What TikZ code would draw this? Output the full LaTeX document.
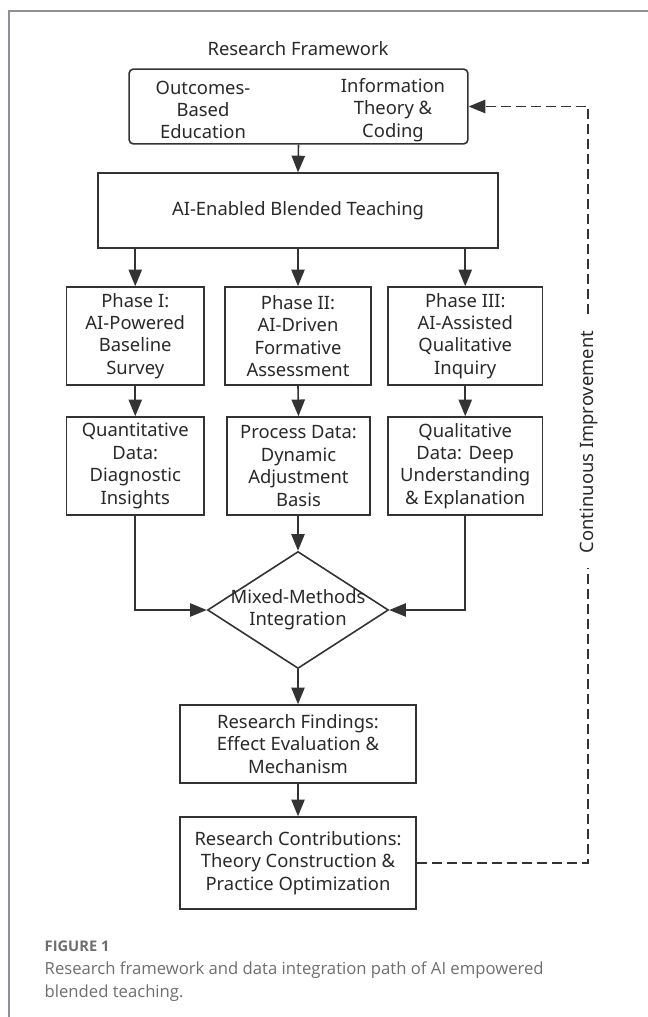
\documentclass[tikz,border=0pt]{standalone}
\usepackage{fontspec}
\setmainfont{Noto Sans}
\newfontfamily\capfont{Open Sans}
\usetikzlibrary{positioning,arrows.meta,shapes.geometric,calc}
\definecolor{ink}{HTML}{333333}
\definecolor{framegray}{HTML}{8C9099}
\definecolor{capgray}{HTML}{6E6E6E}
\tikzset{
  box/.style={draw=ink, line width=1.2pt, align=center, inner sep=2pt},
  link/.style={ink, line width=1.2pt, -{Triangle[length=12.5pt,width=10pt]}},
  loopline/.style={draw=ink, line width=1.2pt, dash pattern=on 7.5pt off 3.75pt, -{Triangle[length=12.5pt,width=10pt]}},
}

\begin{document}
\begin{tikzpicture}[x=0.75pt, y=-0.75pt, font=\fontsize{13.8}{16.8}\selectfont, text=ink!80!black]
	  \useasboundingbox (0,0) rectangle (648,1017);
	  \draw[framegray, line width=0.9pt] (9,1017) |- (648,11);
	  \node (title) at (298,49) {Research Framework};
	  \node[box, rounded corners=3pt, minimum width=254pt, minimum height=56pt] (base) at (298.5,106.5) {};
	  \node[align=center] (obe) at (203,110) {Outcomes-\\Based\\Education};
	  \node[align=center] (itc) at (393,110) {Information\\Theory \&\\Coding};
	  \node[box, minimum width=300pt, minimum height=56pt] (ai) at (298,210.5) {AI-Enabled Blended Teaching};
	  \node[box, minimum width=103pt, minimum height=73.5pt] (p1) at (135.25,336) {Phase I:\\AI-Powered\\Baseline\\Survey};
	  \node[box, minimum width=109.5pt, minimum height=73.5pt] (p2) at (298,336) {Phase II:\\AI-Driven\\Formative\\Assessment};
	  \node[box, minimum width=116pt, minimum height=73.5pt] (p3) at (465.25,336) {Phase III:\\AI-Assisted\\Qualitative\\Inquiry};
	  \node[box, minimum width=103pt, minimum height=73.5pt] (d1) at (135.25,466) {Quantitative\\Data:\\Diagnostic\\Insights};
	  \node[box, minimum width=107pt, minimum height=73.5pt] (d2) at (298.5,466) {Process Data:\\Dynamic\\Adjustment\\Basis};
	  \node[box, minimum width=116pt, minimum height=73.5pt] (d3) at (465.25,466) {Qualitative\\Data: Deep\\Understanding\\\& Explanation};
	  \node[diamond, draw=ink, line width=1.2pt, minimum width=135.75pt, minimum height=87.75pt, inner sep=0pt] (mix) at (298,610) {};
	  \node[align=center] (mixtext) at (mix) {Mixed-Methods\\Integration};
	  \node[box, minimum width=177pt, minimum height=58.5pt] (find) at (298,744) {Research Findings:\\Effect Evaluation \&\\Mechanism};
	  \node[box, minimum width=177pt, minimum height=69pt] (contrib) at (298,863) {Research Contributions:\\Theory Construction \&\\Practice Optimization};
	  \coordinate (rail) at (588,0);
	  \path[link]
	  (base.south) edge (ai.north)
	  (ai.south -| p1.north) edge (p1.north)
	  (ai.south -| p2.north) edge (p2.north)
	  (ai.south -| p3.north) edge (p3.north)
	  (p1.south) edge (d1.north)
	  (p2.south) edge (d2.north)
	  (p3.south) edge (d3.north)
	  (d2.south -| mix.north) edge (mix.north)
	  (mix.south) edge (find.north)
	  (find.south) edge (contrib.north);
	  \draw[link] (d1.south) |- (mix.west);
	  \draw[link] (d3.south) |- (mix.east);
	  \draw[loopline] (contrib.east) -| (base.east -| rail) -- (base.east);
	  \node[fill=white, rotate=90, inner xsep=11pt] (improve) at (589,442) {Continuous Improvement};
	  \node[anchor=base west, text=capgray, font=\capfont\bfseries\fontsize{11}{13}\selectfont] (fig) at (40,951) {FIGURE 1};
	  \node[anchor=base west, text=capgray, font=\capfont\fontsize{12.5}{15}\selectfont] (cap1) at (40,974) {Research framework and data integration path of AI empowered};
	  \node[anchor=base west, text=capgray, font=\capfont\fontsize{12.5}{15}\selectfont] (cap2) at (40,997) {blended teaching.};
	\end{tikzpicture}
\end{document}
